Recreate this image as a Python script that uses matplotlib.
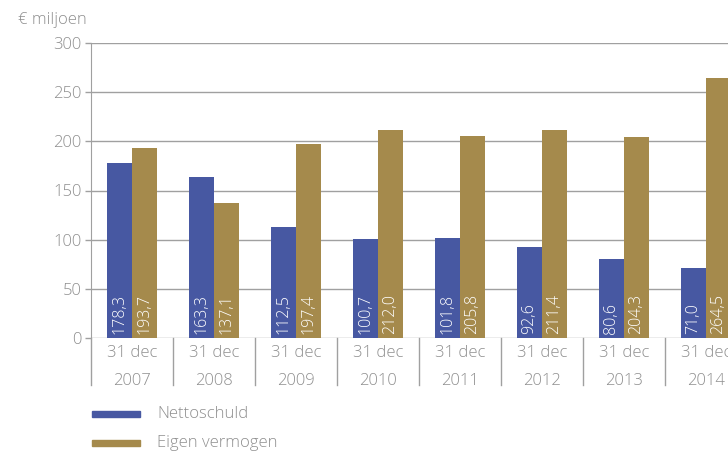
import matplotlib.pyplot as plt
import matplotlib.transforms as mtransforms
from matplotlib.patches import Rectangle
import numpy as np

plt.rcParams['font.family'] = ['Open Sans', 'DejaVu Sans']
plt.rcParams['font.weight'] = 'light'

# data
years = ['2007', '2008', '2009', '2010', '2011', '2012', '2013', '2014']
nettoschuld = [178.3, 163.3, 112.5, 100.7, 101.8, 92.6, 80.6, 71.0]
eigen_vermogen = [193.7, 137.1, 197.4, 212.0, 205.8, 211.4, 204.3, 264.5]
series_labels = ['Nettoschuld', 'Eigen vermogen']

blue = '#4758a2'
gold = '#a58a4c'
grey_txt = '#8f8f8f'
grey_line = '#a0a0a0'

fig = plt.figure(figsize=(7.28, 4.54), dpi=100)
ax = fig.add_axes([91/728, (454-338)/454, 1 - 91/728, (338-43)/454])

index = np.arange(len(years))
bar_width = 0.305

ax.bar(index - bar_width/2, nettoschuld, bar_width, color=blue, zorder=3)
ax.bar(index + bar_width/2, eigen_vermogen, bar_width, color=gold, zorder=3)

# values inside bars
for i in range(len(years)):
    for x, v in ((index[i] - bar_width/2, nettoschuld[i]), (index[i] + bar_width/2, eigen_vermogen[i])):
        ax.text(x, 4, f'{v:.1f}'.replace('.', ','), rotation=90, color='white',
                ha='center', va='bottom', fontsize=11.5, zorder=4)

ax.set_ylim(0, 300)
ax.set_xlim(-0.5, (728 - 91) / 82 - 0.5)
ax.set_yticks(np.arange(0, 301, 50))
ax.yaxis.grid(True, color=grey_line, lw=1, zorder=0)
ax.tick_params(axis='y', length=4, width=1, color=grey_line, labelcolor=grey_txt,
               labelsize=12, pad=3)
ax.set_xticks([])
for s in ['top', 'right', 'bottom']:
    ax.spines[s].set_visible(False)
ax.spines['left'].set_color(grey_line)

# two level x labels
trans = mtransforms.blended_transform_factory(ax.transData, ax.transAxes)
for i, y in enumerate(years):
    ax.text(index[i], -0.05, '31 dec', transform=trans, ha='center', va='center',
            fontsize=12, color=grey_txt, clip_on=False)
    ax.text(index[i], -0.145, y, transform=trans, ha='center', va='center',
            fontsize=12, color=grey_txt, clip_on=False)
for k in range(len(years) + 1):
    ax.plot([k - 0.5, k - 0.5], [0, -0.16], transform=trans, color=grey_line,
            lw=1, clip_on=False)

fig.text(18/728, 1 - 20/454, '€ miljoen', color=grey_txt, fontsize=12,
         ha='left', va='center')

# legend
for j, (lab, col) in enumerate(zip(series_labels, [blue, gold])):
    yc = 414 + 29 * j
    fig.patches.append(Rectangle((92/728, 1 - (yc + 3)/454), 48/728, 6/454,
                                 color=col, transform=fig.transFigure, figure=fig))
    fig.text(157/728, 1 - yc/454, lab, color=grey_txt, fontsize=12,
             ha='left', va='center')

fig.savefig('out.png', dpi=100)
